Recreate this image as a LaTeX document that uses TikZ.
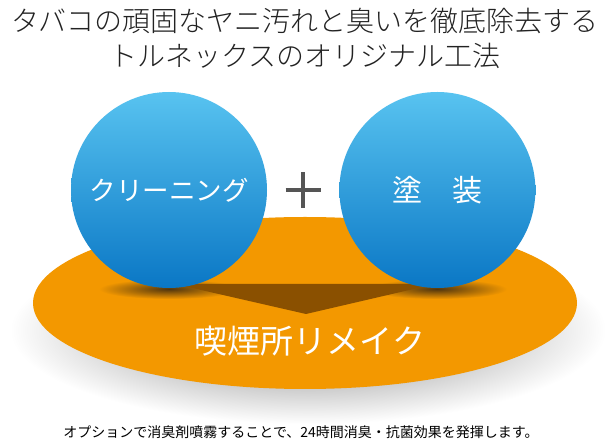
\documentclass[tikz,border=0pt]{standalone}
\usepackage{fontspec}
\setmainfont{Noto Sans CJK JP}
\IfFontExistsTF{Noto Sans CJK JP Light}
  {\newfontfamily\lightfont{Noto Sans CJK JP Light}}
  {\newfontfamily\lightfont{Noto Sans CJK JP}}
\usepackage{xcolor}
\usetikzlibrary{positioning, shapes.geometric, calc}
\definecolor{cblue1}{HTML}{58C3F0}
\definecolor{cblue2}{HTML}{0A77C5}
\definecolor{corange}{HTML}{F39800}
\definecolor{cbrown}{HTML}{8A5000}
\definecolor{cshadow}{HTML}{3E2A10}
\definecolor{cplus}{HTML}{555555}
\definecolor{ctext}{HTML}{222222}

\begin{document}
\begin{tikzpicture}[
  x=1pt, y=-1pt,
  node distance=72pt,
  ball/.style={circle, minimum size=196pt, inner sep=0pt, top color=cblue1,
               bottom color=cblue2, text=white},
  base/.style={ellipse, minimum width=544pt, minimum height=172pt, inner sep=0pt,
               fill=corange},
  title/.style={align=center, text=ctext, font=\lightfont\fontsize{28}{35}\selectfont},
  plusline/.style={draw=cplus, line width=4pt},
  baseshadow/.style={inner color=black!52, outer color=white},
  ballshadow/.style={inner color=cshadow!90!corange, outer color=corange},
  ]
\fill[white] (0,0) rectangle (611,443);
\useasboundingbox (0,0) rectangle (611,443);

\node[title] (head) at (305,38) {タバコの頑固なヤニ汚れと臭いを徹底除去する\\トルネックスのオリジナル工法};

\shade[baseshadow] (308,330) ellipse [x radius=298, y radius=94];
\node[base] (base) at (305,303) {};

\shade[ballshadow] (169,289) ellipse [x radius=70, y radius=10];
\shade[ballshadow] (437,289) ellipse [x radius=70, y radius=10];

\fill[cbrown] (175,284) -- (435,284) -- (306,314) -- cycle;

\node[ball, font=\fontsize{26.5}{26.5}\selectfont] (clean) at (169,190) {クリーニング};
\node[ball, right=of clean, font=\fontsize{30}{30}\selectfont] (paint) {塗　装};

\node[minimum size=35pt, inner sep=0pt] (plus) at ($(clean)!0.5!(paint)$) {};
\draw[plusline] (plus.north) -- (plus.south);
\draw[plusline] (plus.west) -- (plus.east);

\node[text=white, font=\fontsize{33}{33}\selectfont] (remake) at (310,341) {喫煙所リメイク};

\node[text=black, font=\fontsize{14}{15}\selectfont] (note) at (301,432) {オプションで消臭剤噴霧することで、24時間消臭・抗菌効果を発揮します。};
\end{tikzpicture}
\end{document}
